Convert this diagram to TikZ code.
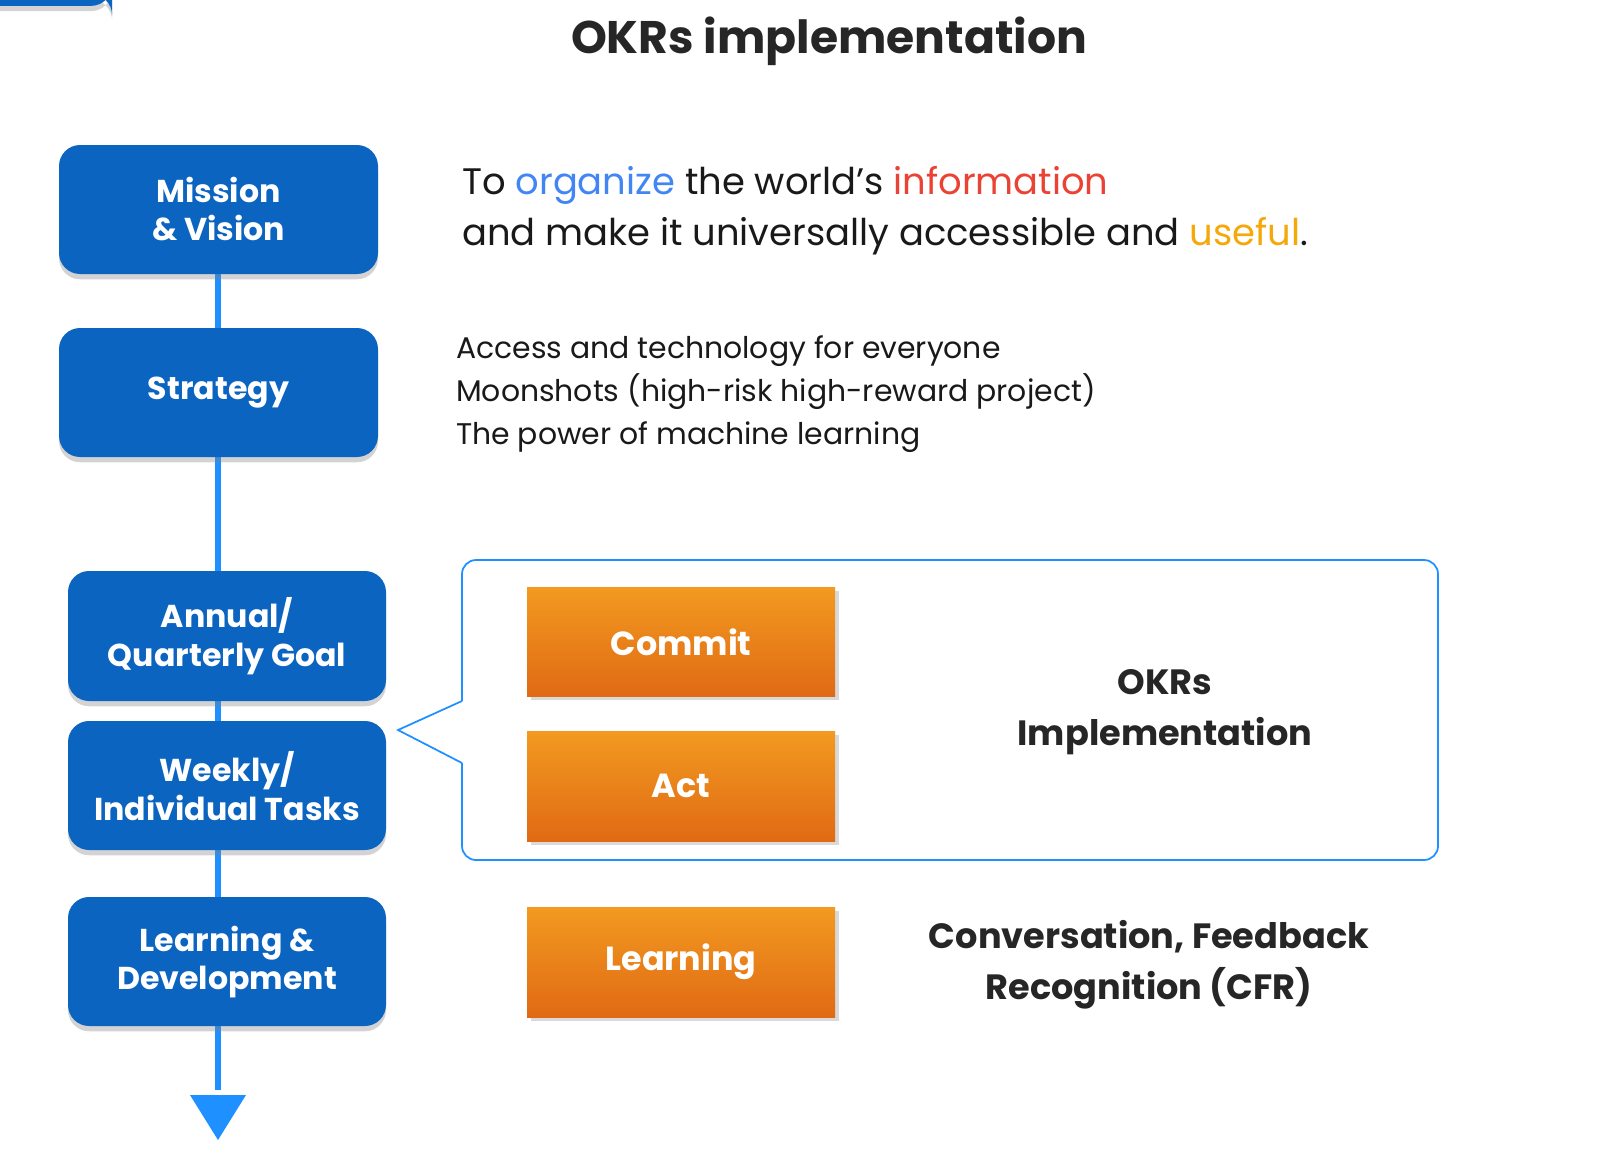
\documentclass[tikz,border=0pt]{standalone}
\usepackage{fontspec}
\setmainfont{Poppins}
\usetikzlibrary{shadows,arrows.meta}
\definecolor{bb}{HTML}{0A64C0}
\definecolor{lb}{HTML}{1E90FF}
\definecolor{og}{HTML}{F29A20}
\definecolor{or}{HTML}{E06A14}
\definecolor{gblue}{HTML}{4285F4}
\definecolor{gred}{HTML}{EA4335}
\definecolor{gyel}{HTML}{F4A80A}
\begin{document}
\begin{tikzpicture}[x=0.02cm,y=-0.02cm,
  blue box/.style={fill=bb,rounded corners=12pt,text=white,font=\fontsize{18}{21}\selectfont\bfseries,align=center,drop shadow={shadow xshift=0pt,shadow yshift=-3pt,opacity=0.35}},
  orange box/.style={top color=og,bottom color=or,text=white,font=\fontsize{19}{22}\selectfont\bfseries,drop shadow={shadow xshift=2pt,shadow yshift=-2pt,opacity=0.3}},
  conn/.style={draw=lb,line width=3.5pt}]
\useasboundingbox (0,0) rectangle (1598,1156);
\node[font=\fontsize{26}{30}\selectfont\bfseries,text=black!85] (title) at (829,41) {OKRs implementation};
\coordinate (tip) at (218,1140);
\draw[conn] (218,274) -- (218,1090);
\fill[lb] (190,1095) -- (246,1095) -- (tip) -- cycle;
\node[blue box,minimum width=319\pgflinewidth] at (0,0) {};
\path[blue box] (59,145) rectangle (378,274);
\node[text=white,font=\fontsize{18}{22}\selectfont\bfseries,align=center] (mv) at (218.5,209) {Mission\\\& Vision};
\path[blue box] (59,328) rectangle (378,457);
\node[text=white,font=\fontsize{18}{22}\selectfont\bfseries] (st) at (218.5,393) {Strategy};
\path[blue box] (68,571) rectangle (386,701);
\node[text=white,font=\fontsize{18}{22}\selectfont\bfseries,align=center] (an) at (227,636) {Annual/\\Quarterly Goal};
\path[blue box] (68,721) rectangle (386,850);
\node[text=white,font=\fontsize{18}{22}\selectfont\bfseries,align=center] (wk) at (227,786) {Weekly/\\Individual Tasks};
\path[blue box] (68,897) rectangle (386,1026);
\node[text=white,font=\fontsize{18}{22}\selectfont\bfseries,align=center] (ld) at (227,962) {Learning \&\\Development};
\node[anchor=west,align=left,font=\fontsize{21}{29}\selectfont,text=black!90] (mt) at (456,211)
 {To \textcolor{gblue}{organize} the world’s \textcolor{gred}{information}\\and make it universally accessible and \textcolor{gyel}{useful}.};
\node[anchor=west,align=left,font=\fontsize{17}{24.5}\selectfont,text=black!90] (sl) at (450,394)
 {Access and technology for everyone\\Moonshots (high-risk high-reward project)\\The power of machine learning};
\draw[lb,line width=1pt,rounded corners=8pt] (462,701) -- (462,560) -- (1438,560) -- (1438,860) -- (462,860) -- (462,763);
\draw[lb,line width=1pt] (462,701) -- (398,730) -- (462,763);
\path[orange box] (527,587) rectangle (835,696);
\node[text=white,font=\fontsize{19}{22}\selectfont\bfseries] (cm) at (681,642) {Commit};
\path[orange box] (527,731) rectangle (835,841);
\node[text=white,font=\fontsize{19}{22}\selectfont\bfseries] (ac) at (681,786) {Act};
\path[orange box] (527,907) rectangle (835,1017);
\node[text=white,font=\fontsize{19}{22}\selectfont\bfseries] (le) at (681,962) {Learning};
\node[align=center,font=\fontsize{20}{29}\selectfont\bfseries,text=black!85] (okr) at (1165,712) {OKRs\\Implementation};
\node[align=center,font=\fontsize{20}{29}\selectfont\bfseries,text=black!85] (cfr) at (1149,965) {Conversation, Feedback\\Recognition (CFR)};
\end{tikzpicture}
\end{document}
